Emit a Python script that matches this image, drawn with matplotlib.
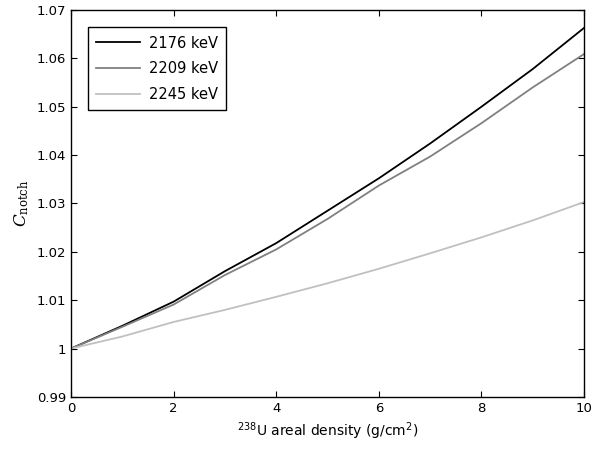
import numpy as np
import matplotlib
matplotlib.use("Agg")
import matplotlib.pyplot as plt

density = [0, 1, 2, 3, 4, 5, 6, 7, 8, 9, 10]
c_2176 = [1.0, 1.0047, 1.0097, 1.016, 1.0218, 1.0285, 1.0352, 1.0424, 1.0500, 1.0578, 1.0663]
c_2209 = [1.0, 1.0045, 1.0091, 1.0152, 1.0205, 1.0268, 1.0337, 1.0397, 1.0466, 1.0540, 1.0609]
c_2245 = [1.0, 1.0025, 1.0055, 1.0080, 1.0107, 1.0135, 1.0165, 1.0197, 1.0230, 1.0265, 1.0303]
labels = ["2176 keV", "2209 keV", "2245 keV"]
colors = ["#000000", "#808080", "#c0c0c0"]

fig = plt.figure(figsize=(5.96, 4.54), dpi=100)
ax = fig.add_axes([0.119, 0.1256, 0.861, 0.8524])

for ys, lab, col in zip([c_2176, c_2209, c_2245], labels, colors):
    ax.plot(density, ys, color=col, lw=1.3, label=lab)

ax.set_xlim(0, 10)
ax.set_ylim(0.99, 1.07)
ax.set_xticks(np.arange(0, 11, 2))
ax.set_yticks(np.arange(0.99, 1.0701, 0.01))
ax.set_yticklabels(["0.99", "1", "1.01", "1.02", "1.03", "1.04", "1.05", "1.06", "1.07"])
ax.tick_params(direction="in", top=True, right=True, labelsize=9.5, length=4)
for s in ax.spines.values():
    s.set_linewidth(1.0)

ax.set_xlabel(r"$^{238}$U areal density (g/cm$^2$)", fontsize=10)
ax.set_ylabel(r"$\mathit{C}_{\mathrm{notch}}$", fontsize=12,
              math_fontfamily="dejavuserif")

leg = ax.legend(loc="upper left", fontsize=10.5, fancybox=False, framealpha=1,
                edgecolor="black", borderaxespad=1.2, handlelength=3.0,
                labelspacing=0.75, borderpad=0.55, handletextpad=0.6)
leg.get_frame().set_linewidth(1.0)

fig.savefig("out.png", dpi=100)
